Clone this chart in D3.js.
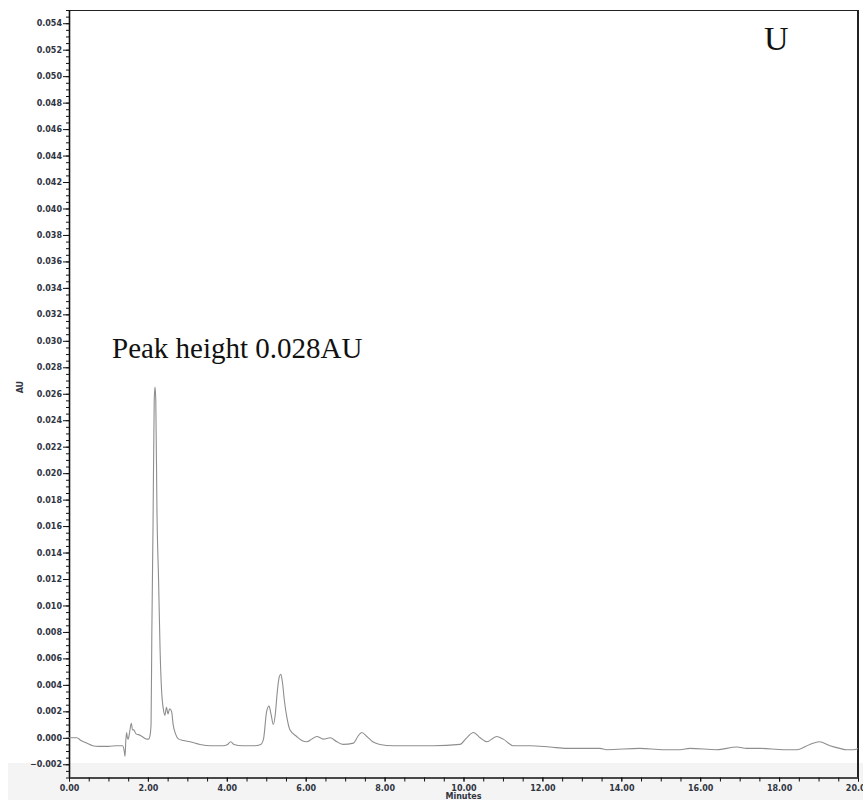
<!DOCTYPE html>
<html>
<head>
<meta charset="utf-8">
<script src="https://cdn.jsdelivr.net/npm/d3@7"></script>
<style>
  html, body { margin: 0; padding: 0; background: #ffffff; }
  svg { display: block; }
</style>
</head>
<body>
<svg id="chart" width="863" height="800"></svg>
<script>
// Retention time (minutes) of each sampled point of the trace
const timeMin = [
  0.00, 0.12, 0.20, 0.30, 0.45, 0.60, 0.75, 1.00, 1.20, 1.36,
  1.40, 1.42, 1.44, 1.46, 1.48, 1.50, 1.53, 1.58, 1.61, 1.64,
  1.70, 1.80, 1.90, 1.98, 2.02, 2.05, 2.08, 2.10, 2.13, 2.16,
  2.18, 2.20, 2.23, 2.27, 2.31, 2.35, 2.39, 2.43, 2.47, 2.51,
  2.55, 2.60, 2.64, 2.70, 2.78, 2.90, 3.07, 3.32, 3.60, 3.90,
  4.02, 4.10, 4.18, 4.40, 4.70, 4.86, 4.93, 5.01, 5.07, 5.12,
  5.18, 5.23, 5.28, 5.33, 5.37, 5.41, 5.46, 5.52, 5.60, 5.77,
  5.90, 6.03, 6.15, 6.28, 6.45, 6.62, 6.79, 6.95, 7.21, 7.32,
  7.42, 7.55, 7.70, 7.88, 8.22, 8.81, 9.23, 9.91, 10.08, 10.25,
  10.42, 10.59, 10.84, 11.01, 11.26, 11.69, 12.19, 12.62, 13.04, 13.46,
  13.63, 14.47, 15.06, 15.49, 15.74, 16.42, 16.93, 17.18, 17.52, 18.11,
  18.45, 18.78, 19.02, 19.29, 19.54, 19.71, 19.88, 20.00
];

// Detector response (AU) at each of those times
const absorbanceAU = [
  0.0000, 0.0000, 0.0000, -0.0002, -0.0004, -0.0006, -0.00065, -0.00065, -0.0006, -0.0006,
  -0.0010, -0.0014, -0.0002, 0.0004, 0.0000, -0.0001, 0.0003, 0.0011, 0.0006, 0.0006,
  0.0003, 0.0002, 0.0000, -0.0001, -0.0001, 0.0001, 0.0010, 0.0080, 0.0160, 0.0255,
  0.0265, 0.0255, 0.0170, 0.0120, 0.0065, 0.0034, 0.0022, 0.0017, 0.0023, 0.0018,
  0.0022, 0.0020, 0.0010, 0.0003, -0.0001, -0.0002, -0.0003, -0.0005, -0.0006, -0.0006,
  -0.0005, -0.0003, -0.0005, -0.0006, -0.0006, -0.0005, -0.0001, 0.0020, 0.0024, 0.0018,
  0.0010, 0.0018, 0.0035, 0.0046, 0.0048, 0.0042, 0.0028, 0.0016, 0.0006, 0.0001,
  -0.0002, -0.0003, -0.0001, 0.0001, -0.0001, 0.0000, -0.0003, -0.0005, -0.0004, 0.0001,
  0.0004, 0.0001, -0.0003, -0.0005, -0.0006, -0.0006, -0.0006, -0.0005, 0.0000, 0.0004,
  0.0000, -0.0003, 0.0001, -0.0001, -0.0006, -0.0006, -0.0007, -0.0008, -0.0008, -0.0008,
  -0.0009, -0.0008, -0.0009, -0.0009, -0.0008, -0.0009, -0.0007, -0.0008, -0.0008, -0.0009,
  -0.0009, -0.0005, -0.0003, -0.0006, -0.0008, -0.0009, -0.0009, -0.0008
];

// Axis ticks
const xMajorTicks = [0, 2, 4, 6, 8, 10, 12, 14, 16, 18, 20];
const yMajorTicks = d3.range(-0.002, 0.0541, 0.002).map(v => +v.toFixed(3));

const xLabel = "Minutes";
const yLabel = "AU";
const peakNote = "Peak height 0.028AU";
const panelTag = "U";

const svg = d3.select("#chart");

const plot = { left: 69, right: 858, top: 10, bottom: 777.5 };

const x = d3.scaleLinear().domain([0, 20]).range([plot.left, plot.right]);
const y = d3.scaleLinear().domain([-0.003, 0.055]).range([plot.bottom, plot.top]);

// light footer band behind the time axis
svg.append("rect")
  .attr("x", 8).attr("y", 763)
  .attr("width", 855).attr("height", 37)
  .attr("fill", "#f4f4f4");

// frame: top and right edges
svg.append("line")
  .attr("x1", plot.left).attr("x2", plot.right)
  .attr("y1", plot.top + 0.5).attr("y2", plot.top + 0.5)
  .attr("stroke", "#222").attr("stroke-width", 1);
svg.append("line")
  .attr("x1", plot.right).attr("x2", plot.right)
  .attr("y1", plot.top).attr("y2", plot.bottom)
  .attr("stroke", "#222").attr("stroke-width", 2);

const tickFont = "DejaVu Sans, Verdana, sans-serif";

// ---- Y axis ----
const yMinor = d3.range(-0.003, 0.05501, 0.0005).map(v => +v.toFixed(4));
const yAxisMinor = d3.axisLeft(y).tickValues(yMinor).tickSize(3).tickFormat("");
const yAxisMajor = d3.axisLeft(y).tickValues(yMajorTicks).tickSize(6).tickPadding(1)
  .tickFormat(d3.format(".3f"));

const gyMinor = svg.append("g").attr("transform", `translate(${plot.left},0)`).call(yAxisMinor);
gyMinor.select(".domain").remove();
gyMinor.selectAll("line").attr("stroke", "#111");

const gy = svg.append("g").attr("transform", `translate(${plot.left},0)`).call(yAxisMajor);
gy.select(".domain").attr("stroke", "#111").attr("stroke-width", 1.6).attr("d", `M0.5,${plot.top}V${plot.bottom}`);
gy.selectAll("line").attr("stroke", "#111");
gy.selectAll("text")
  .attr("font-family", tickFont).attr("font-size", 8).attr("font-weight", "bold")
  .attr("fill", "#2f3440");

// ---- X axis ----
const xMinor = d3.range(0, 20.01, 0.5);
const xAxisMinor = d3.axisBottom(x).tickValues(xMinor).tickSize(4).tickFormat("");
const xAxisMajor = d3.axisBottom(x).tickValues(xMajorTicks).tickSize(4).tickPadding(4)
  .tickFormat(d3.format(".2f"));

const gxMinor = svg.append("g").attr("transform", `translate(0,${plot.bottom})`).call(xAxisMinor);
gxMinor.select(".domain").remove();
gxMinor.selectAll("line").attr("stroke", "#111");

const gx = svg.append("g").attr("transform", `translate(0,${plot.bottom})`).call(xAxisMajor);
gx.select(".domain").attr("stroke", "#111").attr("stroke-width", 1.6).attr("d", `M${plot.left},0.5H${plot.right}`);
gx.selectAll("line").attr("stroke", "#111");
gx.selectAll("text")
  .attr("font-family", tickFont).attr("font-size", 8).attr("font-weight", "bold")
  .attr("fill", "#2f3440");

// axis titles
svg.append("text")
  .attr("x", x(10)).attr("y", 798.5)
  .attr("text-anchor", "middle")
  .attr("font-family", tickFont).attr("font-size", 8).attr("font-weight", "bold")
  .attr("fill", "#2f3440")
  .text(xLabel);

svg.append("text")
  .attr("transform", `translate(23,${y(0.0265)}) rotate(-90)`)
  .attr("text-anchor", "middle")
  .attr("font-family", tickFont).attr("font-size", 8).attr("font-weight", "bold")
  .attr("fill", "#2f3440")
  .text(yLabel);

// ---- chromatogram trace ----
const trace = timeMin.map((t, i) => ({ t, v: absorbanceAU[i] }));

const line = d3.line()
  .x(d => x(d.t))
  .y(d => y(d.v))
  .curve(d3.curveMonotoneX);

svg.append("path")
  .datum(trace)
  .attr("fill", "none")
  .attr("stroke", "#8e8e8e")
  .attr("stroke-width", 1.1)
  .attr("stroke-linejoin", "round")
  .attr("d", line);

// ---- annotations ----
svg.append("text")
  .attr("x", 112).attr("y", 358)
  .attr("font-family", "Liberation Serif, Times New Roman, serif")
  .attr("font-size", 29)
  .attr("fill", "#111")
  .text(peakNote);

svg.append("text")
  .attr("x", 764).attr("y", 50)
  .attr("font-family", "Liberation Serif, Times New Roman, serif")
  .attr("font-size", 34)
  .attr("fill", "#111")
  .text(panelTag);
</script>
</body>
</html>
